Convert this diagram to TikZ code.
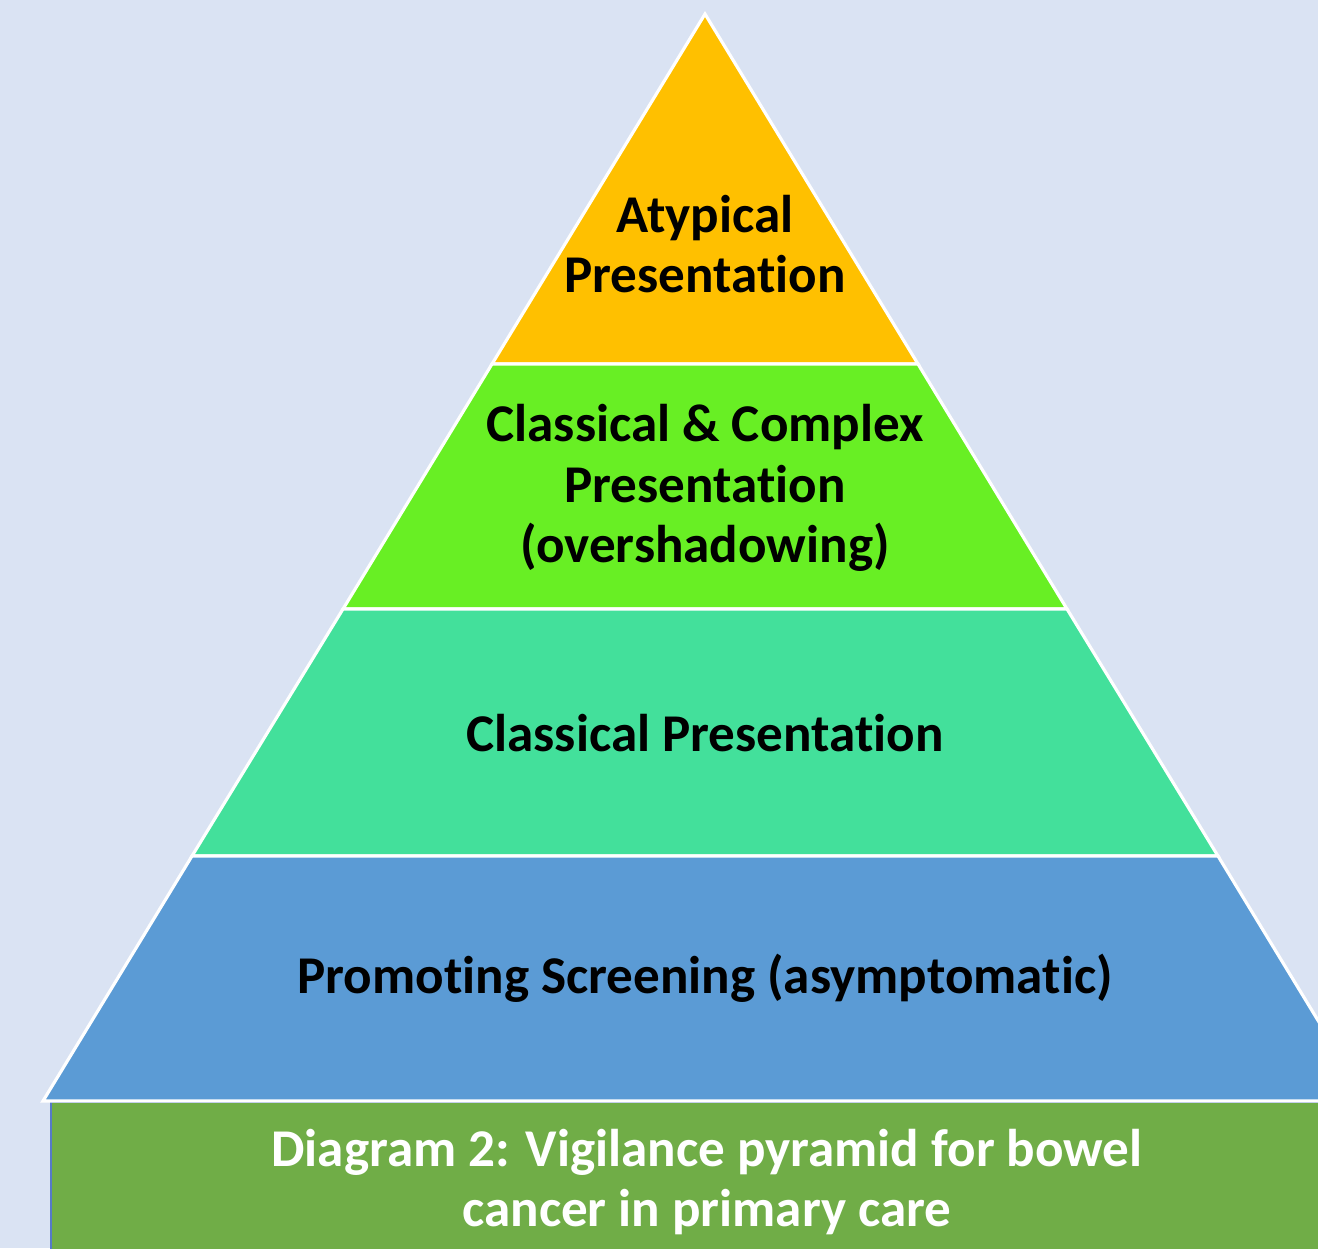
\documentclass[tikz,border=0pt]{standalone}
\usepackage{fontspec}
\setmainfont{Carlito}[Ligatures=NoCommon]
\usepackage{xcolor}
\usepackage{tikz}
\usetikzlibrary{calc,positioning}
\definecolor{pagebg}{RGB}{218,227,243}
\definecolor{tiertop}{RGB}{255,192,0}
\definecolor{tiercomplex}{RGB}{104,239,36}
\definecolor{tierclassic}{RGB}{67,224,155}
\definecolor{tierscreen}{RGB}{91,155,213}
\definecolor{captionbar}{RGB}{112,173,71}
\definecolor{captionedge}{RGB}{86,122,200}
\tikzset{
  tier/.style={draw=white,line width=0.9pt,line join=miter},
  tierlabel/.style={font=\bfseries\fontsize{15.1}{17.2}\selectfont,align=center,
    text=black,inner sep=0pt},
  captionlabel/.style={font=\bfseries\fontsize{15.1}{17.2}\selectfont,align=center,
    text=white,inner sep=0pt}
}

\begin{document}
\begin{tikzpicture}[x=0.01cm,y=-0.01cm]
  \useasboundingbox (0,0) rectangle (1318,1248);
  \clip (0,0) rectangle (1318,1248);
  \fill[pagebg] (0,0) rectangle (1318,1248);

  % caption bar under the pyramid
  \draw[captionbar,fill=captionbar,draw=captionedge,line width=0.6pt]
    (51,1102) rectangle (1340,1270);

  % pyramid tiers, top to bottom
  \draw[tier,fill=tiertop]     (705,14) -- (918,364) -- (492,364) -- cycle;
  \draw[tier,fill=tiercomplex] (492,364) -- (918,364) -- (1067,609) -- (343,609) -- cycle;
  \draw[tier,fill=tierclassic] (343,609) -- (1067,609) -- (1218,856) -- (192,856) -- cycle;
  \draw[tier,fill=tierscreen]  (192,856) -- (1218,856) -- (1367,1101) -- (43,1101) -- cycle;

  \node[tierlabel] (atypical) at (705,244) {Atypical\\Presentation};
  \node[tierlabel] (complex)  at (705,488) {Classical \& Complex\\Presentation\\(overshadowing)};
  \node[tierlabel] (classic)  at (705,733) {Classical Presentation};
  \node[tierlabel] (screen)   at (705,978) {Promoting Screening (asymptomatic)};
  \node[captionlabel] (caption) at (707,1182) {Diagram 2: Vigilance pyramid for bowel\\cancer in primary care};
\end{tikzpicture}
\end{document}
